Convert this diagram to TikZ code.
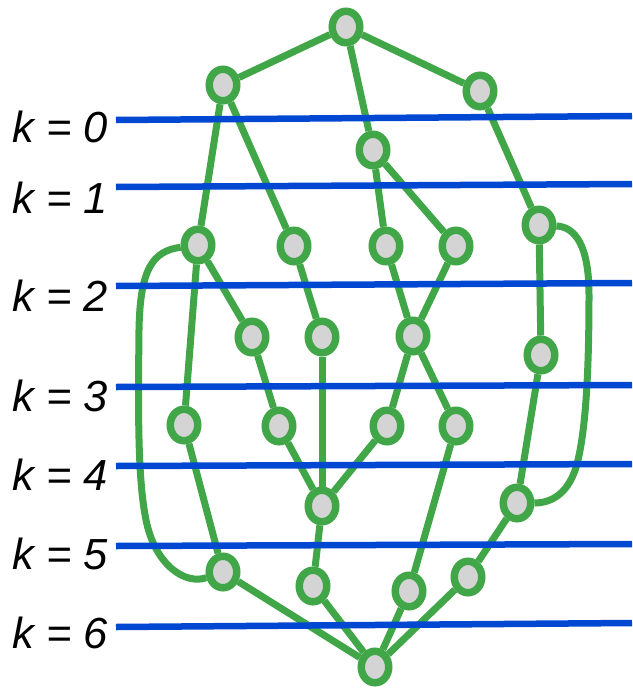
\documentclass[tikz,border=0pt]{standalone}
\usepackage{fontspec}
\setmainfont{Liberation Sans}
\usetikzlibrary{shapes.geometric}
\definecolor{ngreen}{RGB}{64,166,72}
\definecolor{nblue}{RGB}{0,72,210}
\definecolor{ngray}{RGB}{212,212,212}
\tikzset{
  vert/.style={ellipse, draw=ngreen, fill=ngray, line width=7.5pt, minimum width=27.5pt, minimum height=31.5pt, inner sep=0pt},
  edge/.style={draw=ngreen, line width=7pt},
  level/.style={draw=nblue, line width=6.5pt},
  klabel/.style={anchor=base east, inner sep=0pt, font=\fontsize{43.5}{44}\selectfont\itshape}
}
\begin{document}
\begin{tikzpicture}[x=1pt,y=-1pt]
\useasboundingbox (0,0) rectangle (632,688);
% vertices
\node[vert] (T) at (346,27) {};
\node[vert] (A) at (223,85) {};
\node[vert] (B) at (480,91) {};
\node[vert] (C) at (373,150) {};
\node[vert] (D) at (198,245) {};
\node[vert] (E) at (294,246) {};
\node[vert] (F) at (386,246) {};
\node[vert] (G) at (456,246) {};
\node[vert] (H) at (539,225) {};
\node[vert] (I) at (252,337) {};
\node[vert] (J) at (322,337) {};
\node[vert] (K) at (413,336) {};
\node[vert] (L) at (541,355) {};
\node[vert] (M) at (184,425) {};
\node[vert] (N) at (279,426) {};
\node[vert] (O) at (387,426) {};
\node[vert] (P) at (456,426) {};
\node[vert] (Q) at (322,506) {};
\node[vert] (R) at (517,503) {};
\node[vert] (S) at (223,572) {};
\node[vert] (U) at (313,586) {};
\node[vert] (V) at (409,591) {};
\node[vert] (W) at (468,577) {};
\node[vert] (X) at (375,667) {};
% edges
\draw[edge] (T) -- (A);
\draw[edge] (T) -- (B);
\draw[edge] (T) -- (C);
\draw[edge] (A) -- (D);
\draw[edge] (A) -- (E);
\draw[edge] (B) -- (H);
\draw[edge] (C) -- (F);
\draw[edge] (C) -- (G);
\draw[edge] (D) -- (I);
\draw[edge] (D) -- (M);
\draw[edge] (E) -- (J);
\draw[edge] (I) -- (N);
\draw[edge] (N) -- (Q);
\draw[edge] (J) -- (Q);
\draw[edge] (O) -- (Q);
\draw[edge] (F) -- (K);
\draw[edge] (G) -- (K);
\draw[edge] (K) -- (O);
\draw[edge] (K) -- (P);
\draw[edge] (M) -- (S);
\draw[edge] (S) -- (X);
\draw[edge] (Q) -- (U);
\draw[edge] (U) -- (X);
\draw[edge] (P) -- (V);
\draw[edge] (V) -- (X);
\draw[edge] (H) -- (L);
\draw[edge] (L) -- (R);
\draw[edge] (R) -- (W);
\draw[edge] (W) -- (X);
% loops
\draw[edge] (D) .. controls (152,251) and (140,270) .. (139,330)
  .. controls (138,420) and (138,480) .. (146,520)
  .. controls (155,565) and (185,585) .. (S);
\draw[edge] (H) .. controls (575,227) and (589,245) .. (589,295)
  .. controls (589,380) and (585,430) .. (578,460)
  .. controls (570,495) and (550,503) .. (R);
% level labels
\node[klabel] (l0) at (108,142) {k = 0};
\node[klabel] (l1) at (108,213) {k = 1};
\node[klabel] (l2) at (108,311) {k = 2};
\node[klabel] (l3) at (108,411) {k = 3};
\node[klabel] (l4) at (108,490) {k = 4};
\node[klabel] (l5) at (108,569) {k = 5};
\node[klabel] (l6) at (108,648) {k = 6};
% level lines
\coordinate (a0) at (116,120); \coordinate (b0) at (632,116);
\coordinate (a1) at (116,187); \coordinate (b1) at (632,184);
\coordinate (a2) at (116,286); \coordinate (b2) at (632,283);
\coordinate (a3) at (116,387); \coordinate (b3) at (632,385);
\coordinate (a4) at (116,466); \coordinate (b4) at (632,464);
\coordinate (a5) at (116,546); \coordinate (b5) at (632,544);
\coordinate (a6) at (116,627); \coordinate (b6) at (632,623);
\foreach \i in {0,...,6} { \draw[level] (a\i) -- (b\i); }
\end{tikzpicture}
\end{document}
